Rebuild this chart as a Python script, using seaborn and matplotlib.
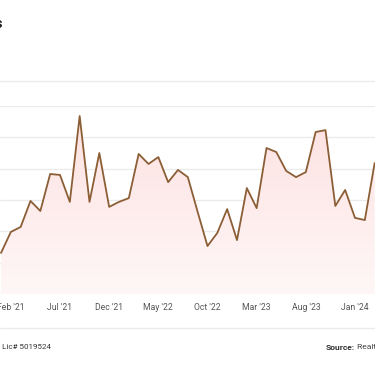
import matplotlib
matplotlib.use("Agg")
import matplotlib.pyplot as plt
from matplotlib.colors import LinearSegmentedColormap
from matplotlib.patches import PathPatch
from matplotlib.lines import Line2D
import numpy as np
import pandas as pd
import seaborn as sns

# monthly series, Jan '21 .. Mar '24
months = ["Jan '21", "Feb '21", "Mar '21", "Apr '21", "May '21", "Jun '21",
          "Jul '21", "Aug '21", "Sep '21", "Oct '21", "Nov '21", "Dec '21",
          "Jan '22", "Feb '22", "Mar '22", "Apr '22", "May '22", "Jun '22",
          "Jul '22", "Aug '22", "Sep '22", "Oct '22", "Nov '22", "Dec '22",
          "Jan '23", "Feb '23", "Mar '23", "Apr '23", "May '23", "Jun '23",
          "Jul '23", "Aug '23", "Sep '23", "Oct '23", "Nov '23", "Dec '23",
          "Jan '24", "Feb '24", "Mar '24"]
values = [13.1, 19.8, 21.4, 29.7, 26.5, 38.3,
          38.0, 29.4, 56.8, 29.4, 45.0, 27.8,
          29.4, 30.6, 44.7, 41.5, 43.7, 35.7,
          39.6, 37.3, 26.2, 15.3, 19.5, 27.1,
          17.2, 33.8, 27.4, 46.6, 45.3, 39.3,
          37.3, 38.9, 51.7, 52.3, 28.1, 33.2,
          24.3, 23.6, 41.8]
tick_labels = ["Feb '21", "Jul '21", "Dec '21", "May '22", "Oct '22",
               "Mar '23", "Aug '23", "Jan '24"]
y_ticks = [0, 10, 20, 30, 40, 50, 60]

df = pd.DataFrame({"month": months, "value": values})
df["idx"] = np.arange(len(df))

sns.set_theme(style="white")
plt.rcParams["font.family"] = ["Roboto", "DejaVu Sans"]

W, H = 375, 366
fig = plt.figure(figsize=(W / 100, H / 100), dpi=100)
fig.patch.set_facecolor("white")

# axes run past both image edges (the picture is a crop)
step = 9.833
x0 = -1 / step
x1 = (W - 1) / step
ax = fig.add_axes([0, (H - 294) / H, 1, (294 - 106) / H])
ax.set_xlim(x0, x1)
ax.set_ylim(0, 60)

# gradient fill under the line
poly = ax.fill_between(df["idx"], df["value"], 0, color="none", lw=0)
clip = PathPatch(poly.get_paths()[0], transform=ax.transData,
                 facecolor="none", edgecolor="none")
ax.add_patch(clip)
cmap = LinearSegmentedColormap.from_list("pinkfade", ["#fff7f7", "#fde0e0"])
grad = np.linspace(0, 1, 256).reshape(-1, 1)
im = ax.imshow(grad, extent=[x0, x1, 0, 60], aspect="auto", cmap=cmap,
               origin="lower", zorder=1)
im.set_clip_path(clip)

sns.lineplot(data=df, x="idx", y="value", color="#8b5e36", linewidth=1.3,
             ax=ax, zorder=3)

ax.set_yticks(y_ticks)
ax.set_yticklabels([])
ax.yaxis.grid(True, color="#ebebeb", linewidth=1)
ax.set_axisbelow(True)
for s in ax.spines.values():
    s.set_visible(False)
ax.axhline(0, color="#e6e6e6", linewidth=1, zorder=0.5)

ax.set_xticks([months.index(t) for t in tick_labels])
ax.set_xticklabels(tick_labels, fontsize=6.2, color="#555555")
ax.tick_params(axis="both", length=0, pad=6.5)
ax.set_xlabel("")
ax.set_ylabel("")

# header / footer separators
fig.add_artist(Line2D([0, 1], [1 - 81 / H, 1 - 81 / H], color="#ebebeb", lw=1))
fig.add_artist(Line2D([0, 1], [1 - 328 / H, 1 - 328 / H], color="#ebebeb", lw=1))

# title tail (cut off at left edge)
fig.text(3 / W, 1 - 28 / H, "Listings", ha="right", va="baseline",
         fontsize=11, fontweight="bold", color="#222222")

# footer
fig.text(51 / W, 1 - 347 / H, "MD Lic# 5019524", ha="right", va="center",
         fontsize=5.8, color="#333333")
src = fig.text(326 / W, 1 - 347 / H, "Source:", ha="left", va="center",
               fontsize=6.1, fontweight="bold", color="#333333")
fig.canvas.draw()
bb = src.get_window_extent(renderer=fig.canvas.get_renderer())
fig.text((bb.x1 + 2) / W, 1 - 347 / H, "Realtors Property Resource",
         ha="left", va="center", fontsize=6.1, color="#444444")

fig.savefig("out.png", dpi=100, facecolor="white")
